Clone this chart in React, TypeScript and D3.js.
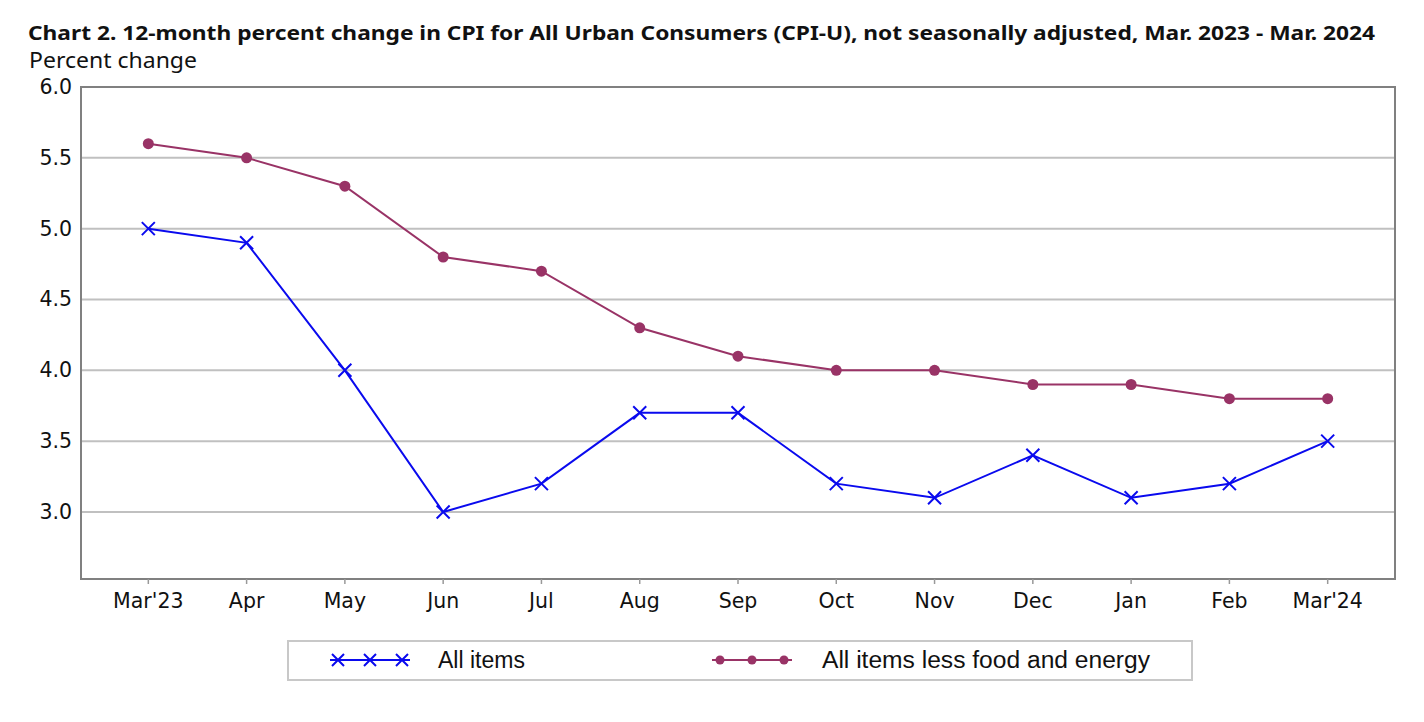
import * as d3 from "d3";
import { useEffect, useRef } from "react";

const months = ["Mar'23", "Apr", "May", "Jun", "Jul", "Aug", "Sep", "Oct", "Nov", "Dec", "Jan", "Feb", "Mar'24"];
const allItems = [5.0, 4.9, 4.0, 3.0, 3.2, 3.7, 3.7, 3.2, 3.1, 3.4, 3.1, 3.2, 3.5];
const coreItems = [5.6, 5.5, 5.3, 4.8, 4.7, 4.3, 4.1, 4.0, 4.0, 3.9, 3.9, 3.8, 3.8];
const yTicks = [3.0, 3.5, 4.0, 4.5, 5.0, 5.5, 6.0];
const seriesNames = ["All items", "All items less food and energy"];

const BLUE = "#0a0aee";
const PURPLE = "#993366";

export default function App() {
    const svgRef = useRef<SVGSVGElement | null>(null);

    useEffect(() => {
        if (!svgRef.current) return;
        const svg = d3.select(svgRef.current);
        svg.selectAll("*").remove();

        const left = 81, right = 1395, top = 87, bottom = 579;
        const font = "'DejaVu Sans', sans-serif";

        const x = d3.scalePoint<string>().domain(months).range([left, right]).padding(0.685);
        const y = d3.scaleLinear().domain([2.527, 6.0]).range([bottom, top]);

        // title
        svg.append("text")
            .attr("x", 28).attr("y", 40)
            .attr("font-family", "'Noto Sans', sans-serif")
            .attr("font-weight", "bold")
            .attr("font-size", 20)
            .attr("textLength", 1347)
            .attr("lengthAdjust", "spacingAndGlyphs")
            .attr("fill", "#111")
            .text("Chart 2. 12-month percent change in CPI for All Urban Consumers (CPI-U), not seasonally adjusted, Mar. 2023 - Mar. 2024");

        svg.append("text")
            .attr("x", 29).attr("y", 68)
            .attr("font-family", "'Noto Sans', sans-serif")
            .attr("font-size", 22.5)
            .attr("textLength", 168)
            .attr("lengthAdjust", "spacingAndGlyphs")
            .attr("fill", "#111")
            .text("Percent change");

        // gridlines
        svg.append("g").selectAll("line")
            .data(yTicks.filter((t) => t < 6))
            .join("line")
            .attr("x1", left).attr("x2", right)
            .attr("y1", (d) => y(d)).attr("y2", (d) => y(d))
            .attr("stroke", "#c0c0c0").attr("stroke-width", 2);

        // frame
        svg.append("rect")
            .attr("x", left).attr("y", top)
            .attr("width", right - left).attr("height", bottom - top)
            .attr("fill", "none").attr("stroke", "#808080").attr("stroke-width", 2);

        // y labels
        svg.append("g").selectAll("text")
            .data(yTicks)
            .join("text")
            .attr("x", 72).attr("y", (d) => y(d) + 7)
            .attr("text-anchor", "end")
            .attr("font-family", font).attr("font-size", 20.5)
            .attr("fill", "#111")
            .text((d) => d.toFixed(1));

        // x ticks + labels
        const xg = svg.append("g");
        xg.selectAll("line")
            .data(months)
            .join("line")
            .attr("x1", (d) => x(d)!).attr("x2", (d) => x(d)!)
            .attr("y1", bottom).attr("y2", bottom + 5)
            .attr("stroke", "#999").attr("stroke-width", 1.5);
        xg.selectAll("text")
            .data(months)
            .join("text")
            .attr("x", (d) => x(d)!).attr("y", 608)
            .attr("text-anchor", "middle")
            .attr("font-family", font).attr("font-size", 20.5)
            .attr("fill", "#111")
            .text((d) => d);

        const line = d3.line<number>()
            .x((d, i) => x(months[i])!)
            .y((d) => y(d));

        svg.append("path").datum(coreItems)
            .attr("fill", "none").attr("stroke", PURPLE).attr("stroke-width", 2)
            .attr("d", line);
        svg.append("g").selectAll("circle")
            .data(coreItems)
            .join("circle")
            .attr("cx", (d, i) => x(months[i])!).attr("cy", (d) => y(d))
            .attr("r", 5.5).attr("fill", PURPLE);

        svg.append("path").datum(allItems)
            .attr("fill", "none").attr("stroke", BLUE).attr("stroke-width", 2)
            .attr("d", line);
        const cross = (cx: number, cy: number, s: number) =>
            `M${cx - s},${cy - s}L${cx + s},${cy + s}M${cx - s},${cy + s}L${cx + s},${cy - s}`;
        svg.append("g").selectAll("path")
            .data(allItems)
            .join("path")
            .attr("d", (d, i) => cross(x(months[i])!, y(d), 6.5))
            .attr("stroke", BLUE).attr("stroke-width", 2).attr("fill", "none");

        // legend
        const lg = svg.append("g");
        lg.append("rect")
            .attr("x", 288).attr("y", 641).attr("width", 904).attr("height", 39)
            .attr("fill", "#fff").attr("stroke", "#c8c8c8").attr("stroke-width", 2);
        const ly = 660;
        lg.append("line").attr("x1", 330).attr("x2", 410).attr("y1", ly).attr("y2", ly)
            .attr("stroke", BLUE).attr("stroke-width", 2);
        [338, 370, 402].forEach((cx) => {
            lg.append("path").attr("d", cross(cx, ly, 6))
                .attr("stroke", BLUE).attr("stroke-width", 2);
        });
        lg.append("text").attr("x", 438).attr("y", ly + 8)
            .attr("font-family", "'Liberation Sans', Arial, sans-serif").attr("font-size", 23)
            .attr("fill", "#111").text(seriesNames[0]);

        lg.append("line").attr("x1", 712).attr("x2", 792).attr("y1", ly).attr("y2", ly)
            .attr("stroke", PURPLE).attr("stroke-width", 2);
        [720, 752, 784].forEach((cx) => {
            lg.append("circle").attr("cx", cx).attr("cy", ly).attr("r", 4.5).attr("fill", PURPLE);
        });
        lg.append("text").attr("x", 822).attr("y", ly + 8)
            .attr("font-family", "'Liberation Sans', Arial, sans-serif").attr("font-size", 23)
            .attr("textLength", 328).attr("lengthAdjust", "spacingAndGlyphs")
            .attr("fill", "#111").text(seriesNames[1]);
    }, []);

    return (
        <div style={{ position: "absolute", left: 0, top: 0 }}>
            <svg ref={svgRef} width={1424} height={722} style={{ display: "block", background: "#fff" }} />
        </div>
    );
}
